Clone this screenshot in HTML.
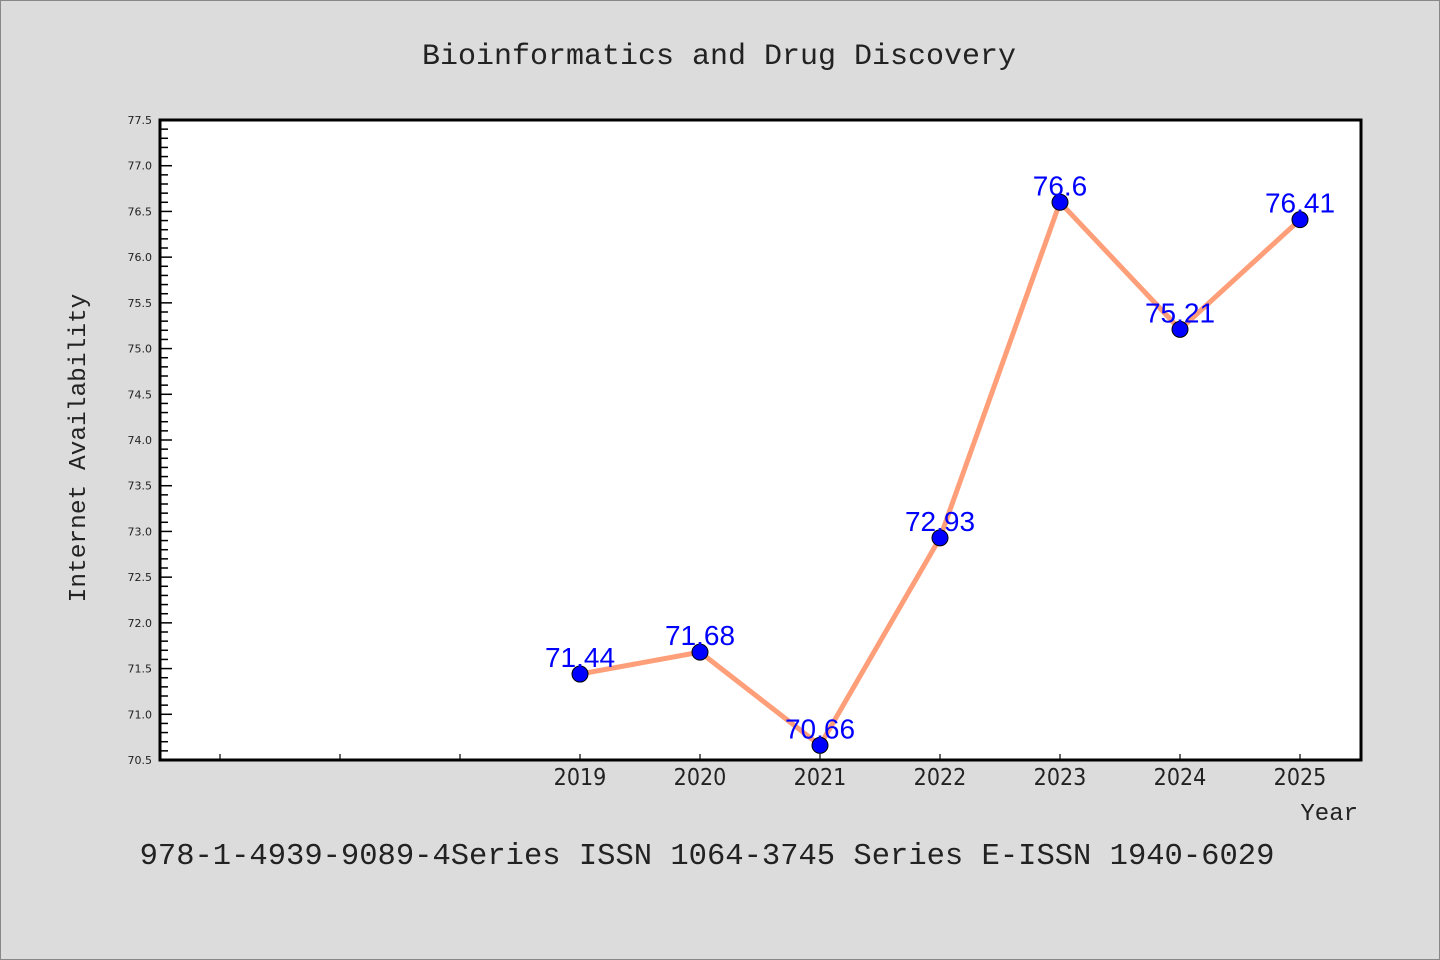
<!DOCTYPE html>
<html><head><meta charset="utf-8"><style>
body{margin:0;background:#dcdcdc;}
svg{display:block}
</style></head><body>
<svg width="1440" height="960" xmlns="http://www.w3.org/2000/svg">
<rect x="0.5" y="0.5" width="1439" height="959" fill="#dcdcdc" stroke="#888"/>
<text x="719" y="64" text-anchor="middle" font-family="Liberation Mono, monospace" font-size="30" fill="#222">Bioinformatics and Drug Discovery</text>
<rect x="160" y="120" width="1201" height="640" fill="#fff"/>
<g id="axes"></g>
<g id="series"></g>
<rect x="160" y="120" width="1201" height="640" fill="none" stroke="#000" stroke-width="3"/>
<text transform="translate(85,448) rotate(-90)" text-anchor="middle" font-family="Liberation Mono, monospace" font-size="24.5" fill="#222">Internet Availability</text>
<text x="1358" y="820" text-anchor="end" font-family="Liberation Mono, monospace" font-size="24" fill="#222">Year</text>
<text x="707" y="864" text-anchor="middle" font-family="Liberation Mono, monospace" font-size="30.5" fill="#222">978-1-4939-9089-4Series ISSN 1064-3745 Series E-ISSN 1940-6029</text>
</svg>
<script>
const categories=["2019","2020","2021","2022","2023","2024","2025"];
const values=[71.44,71.68,70.66,72.93,76.6,75.21,76.41];
const valueLabels=["71.44","71.68","70.66","72.93","76.6","75.21","76.41"];
const yTicks=["70.5","71.0","71.5","72.0","72.5","73.0","73.5","74.0","74.5","75.0","75.5","76.0","76.5","77.0","77.5"];
const NS="http://www.w3.org/2000/svg";
const yMin=70.5,yMax=77.5,plotTop=120,plotBot=760,plotLeft=160;
function yScale(v){return plotBot-(v-yMin)/(yMax-yMin)*(plotBot-plotTop);}
function xScale(i){return 580+120*i;}
function mk(tag,attrs,parent){const e=document.createElementNS(NS,tag);for(const k in attrs)e.setAttribute(k,attrs[k]);parent.appendChild(e);return e;}
const axes=document.getElementById('axes'),ser=document.getElementById('series');
for(let k=0;k<=70;k++){
  const v=yMin+k*0.1;const yy=yScale(v);const major=k%5===0;
  const t=mk('line',{x1:plotLeft,x2:plotLeft+(major?12:8),y1:yy,y2:yy,stroke:'#000','stroke-width':1.5},axes);
  
  
}
yTicks.forEach(s=>{
  const t=mk('text',{x:152,y:yScale(parseFloat(s))+4,'text-anchor':'end','font-family':'DejaVu Sans, sans-serif','font-size':11,fill:'#222'},axes);
  t.textContent=s;
  
  
});
for(let i=-3;i<categories.length;i++){
  const t=mk('line',{x1:xScale(i),x2:xScale(i),y1:plotBot,y2:plotBot-6,stroke:'#000','stroke-width':1.2},axes);
  
  
}
categories.forEach((c,i)=>{
  const t=mk('text',{x:xScale(i),y:785,'text-anchor':'middle','font-family':'DejaVu Sans Condensed, DejaVu Sans, sans-serif','font-size':23,fill:'#222'},axes);
  t.textContent=c;
  
  
});
const pl=mk('polyline',{points:values.map((v,i)=>xScale(i)+','+yScale(v)).join(' '),fill:'none',stroke:'#ff9f7a','stroke-width':5,'stroke-linejoin':'round'},ser);


values.forEach((v,i)=>{
  const c=mk('circle',{cx:xScale(i),cy:yScale(v),r:8,fill:'#0000ff',stroke:'#000','stroke-width':1},ser);
  
  
});
values.forEach((v,i)=>{
  const t=mk('text',{x:xScale(i),y:yScale(v)-7,'text-anchor':'middle','font-family':'Liberation Sans, sans-serif','font-size':28,fill:'#0000ff'},ser);
  t.textContent=valueLabels[i];
  
  
});
</script>
</body></html>
